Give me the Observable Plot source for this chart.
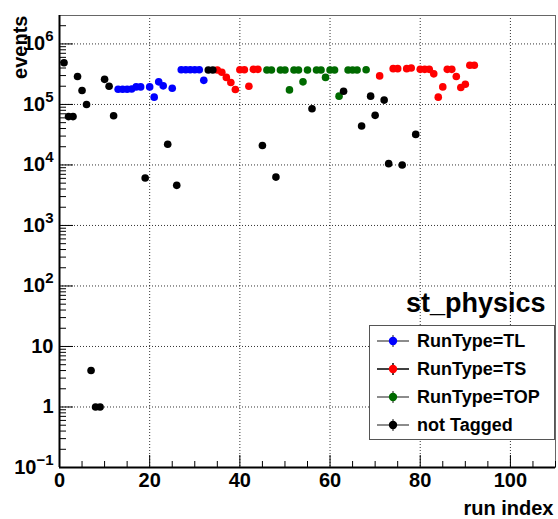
<!DOCTYPE html>
<html><head><meta charset="utf-8">
<script src="https://cdn.jsdelivr.net/npm/d3@7"></script>
<script src="https://cdn.jsdelivr.net/npm/@observablehq/plot@0.6"></script>
<style>
body{margin:0;background:#fff}
#chart svg{display:block}
</style>
</head><body><div id="chart"></div>
<script>
// ---- data ----
const tlRun = [13,14,15,16,17,18,20,21,22,23,25,27,28,29,30,31,32];
const tlEvents = [1.78e5,1.78e5,1.78e5,1.8e5,1.95e5,1.95e5,1.95e5,1.32e5,2.36e5,2.03e5,1.85e5,3.75e5,3.75e5,3.75e5,3.75e5,3.75e5,2.5e5];

const tsRun = [35,36,37,38,39,40,41,42,43,44,71,74,75,77,78,80,81,82,83,84,85,86,87,88,89,90,91,92];
const tsEvents = [3.7e5,3.4e5,2.8e5,2.3e5,1.77e5,3.75e5,3.75e5,2.0e5,3.8e5,3.8e5,2.96e5,3.9e5,3.9e5,3.9e5,4.0e5,3.8e5,3.8e5,3.8e5,3.2e5,1.32e5,1.95e5,3.8e5,3.8e5,2.9e5,1.9e5,2.15e5,4.45e5,4.45e5];

const topRun = [46,47,49,50,51,52,53,54,55,57,58,59,60,61,62,64,65,66,68];
const topEvents = [3.7e5,3.7e5,3.7e5,3.7e5,1.74e5,3.7e5,3.7e5,2.36e5,3.7e5,3.7e5,3.7e5,2.8e5,3.7e5,3.7e5,1.37e5,3.7e5,3.7e5,3.7e5,3.75e5];

const ntRun = [1,2,3,4,5,6,7,8,9,10,11,12,19,24,26,33,34,45,48,56,63,67,69,70,72,73,76,79];
const ntEvents = [4.9e5,6.3e4,6.3e4,2.9e5,1.7e5,1.0e5,4,1,1,2.6e5,2.0e5,6.5e4,6.1e3,2.2e4,4.6e3,3.7e5,3.7e5,2.1e4,6.3e3,8.5e4,1.65e5,4.4e4,1.37e5,6.6e4,1.18e5,1.05e4,1.0e4,3.2e4];

const seriesNames = ["RunType=TL","RunType=TS","RunType=TOP","not Tagged"];
const seriesColors = ["#0000ff","#ff0000","#006a00","#000000"];

const xTicks = [0,20,40,60,80,100];
const yTicks = [0.1,1,10,100,1e3,1e4,1e5,1e6];
const yTickLabels = ["10^\u22121","1","10","10^2","10^3","10^4","10^5","10^6"];

const xTitle = "run index";
const yTitle = "events";
const histTitle = "st_physics";

// ---- build table ----
const rows = [];
[[tlRun,tlEvents],[tsRun,tsEvents],[topRun,topEvents],[ntRun,ntEvents]].forEach(([r,e],k)=>{
  r.forEach((v,i)=>rows.push({run:v, events:e[i], type:seriesNames[k]}));
});

const W = 558, H = 519;
const mL = 59, mR = 3, mT = 15, mB = 52;
const innerW = W - mL - mR, innerH = H - mT - mB;
const xDomain = [0,110], yDomain = [0.1, 2.95e6];

const xMinor = d3.range(0,111,5).filter(v => v % 20 !== 0);
const yMinor = [];
for (let e = -1; e <= 6; e++) for (let k = 2; k <= 9; k++) { const v = k*Math.pow(10,e); if (v < yDomain[1]) yMinor.push(v); }

const grid = {stroke:"#000", strokeWidth:1, strokeDasharray:"1,2", strokeOpacity:0.8};

const plot = Plot.plot({
  width: W, height: H,
  marginLeft: mL, marginRight: mR, marginTop: mT, marginBottom: mB,
  style: {fontFamily: "'Liberation Sans', Arial, Helvetica, sans-serif", fontWeight: "bold", fontSize: "20px", background: "#fff", color: "#000"},
  x: {domain: xDomain, label: null},
  y: {type: "log", domain: yDomain, label: null},
  color: {domain: seriesNames, range: seriesColors},
  marks: [
    Plot.ruleX(xTicks.filter(d => d > 0), {x: d => d, ...grid}),
    Plot.ruleY(yTicks.filter(d => d > 0.1), {y: d => d, ...grid}),
    Plot.frame({stroke: "#666", strokeWidth: 1}),
    // inner ticks
    Plot.ruleX(xTicks, {x: d => d, insetTop: innerH - 12, stroke: "#000", strokeWidth: 1}),
    Plot.ruleX(xMinor, {x: d => d, insetTop: innerH - 6, stroke: "#000", strokeWidth: 1}),
    Plot.ruleY(yTicks, {y: d => d, insetRight: innerW - 14, stroke: "#000", strokeWidth: 1}),
    Plot.ruleY(yMinor, {y: d => d, insetRight: innerW - 7, stroke: "#000", strokeWidth: 1}),
    Plot.ruleX([xDomain[0]], {x: d => d, stroke: "#000", strokeWidth: 2}),
    Plot.ruleY([yDomain[0]], {y: d => d, stroke: "#000", strokeWidth: 2}),
    Plot.axisX({ticks: xTicks, tickSize: 0, tickPadding: 5, label: null, tickFormat: d => String(d), fontSize: 20, fontWeight: "bold"}),
    Plot.axisY({ticks: yTicks, tickSize: 0, tickPadding: 6, label: null, tickFormat: d => yTickLabels[yTicks.indexOf(d)], fontSize: 20, fontWeight: "bold"}),
    Plot.dot(rows, {x: "run", y: "events", fill: "type", r: 3.8, stroke: null}),
    Plot.text([yTitle], {text: d => d, frameAnchor: "top-left", lineAnchor: "middle", rotate: -90, textAnchor: "end", dx: -39, dy: 0, fontSize: 20, fontWeight: "bold"}),
    Plot.text([xTitle], {text: d => d, frameAnchor: "bottom-right", lineAnchor: "middle", textAnchor: "end", dx: -2, dy: 41, fontSize: 20, fontWeight: "bold"}),
    Plot.text([histTitle], {text: d => d, frameAnchor: "top-right", lineAnchor: "middle", textAnchor: "end", dx: -10, dy: 288, fontSize: 27, fontWeight: "bold"})
  ]
});

// superscripts for log tick labels
d3.select(plot).selectAll('g[aria-label="y-axis tick label"] text').each(function(){
  const s = this.textContent;
  const i = s.indexOf("^");
  if (i < 0) return;
  const base = s.slice(0,i), ex = s.slice(i+1);
  const t = d3.select(this);
  t.text(null);
  t.append("tspan").text(base);
  t.append("tspan").attr("dy","-0.6em").attr("font-size","0.75em").text(ex);
});

// legend box inside the frame
const lg = d3.select(plot).append("g").attr("text-anchor","start");
const bx = 369.5, by = 325.5, bw = 185, bh = 114;
lg.append("rect").attr("x",bx).attr("y",by).attr("width",bw).attr("height",bh)
  .attr("fill","#fff").attr("stroke","#555").attr("stroke-width",1);
const entryY = [341, 369, 397, 425];
const lineCol = ["#666","#000","#666","#666"];
seriesNames.forEach((name,k)=>{
  const y = entryY[k];
  lg.append("line").attr("x1",377).attr("x2",409).attr("y1",y).attr("y2",y).attr("stroke",lineCol[k]).attr("stroke-width",1.5);
  lg.append("line").attr("x1",393).attr("x2",393).attr("y1",y-6).attr("y2",y+6).attr("stroke",lineCol[k]).attr("stroke-width",1.5);
  lg.append("circle").attr("cx",393).attr("cy",y).attr("r",4.2).attr("fill",seriesColors[k]);
  lg.append("text").attr("x",417).attr("y",y).attr("dy","0.36em").attr("text-anchor","start")
    .attr("font-size",18).attr("font-weight","bold").text(name);
});

document.getElementById("chart").appendChild(plot);
</script>
</body></html>
